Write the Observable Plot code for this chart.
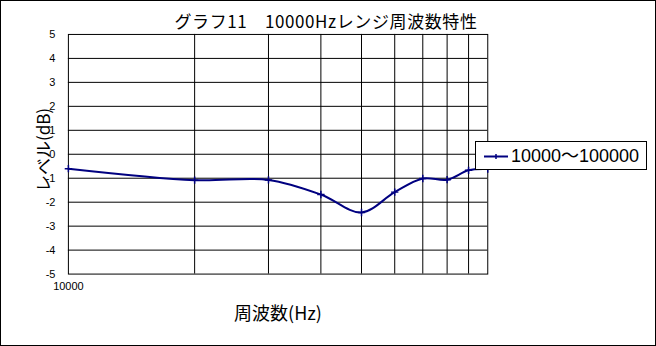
<!DOCTYPE html>
<html>
<head>
<meta charset="utf-8">
<script src="https://cdn.jsdelivr.net/npm/d3@7"></script>
<script src="https://cdn.jsdelivr.net/npm/@observablehq/plot@0.6"></script>
<style>
  html, body { margin: 0; padding: 0; background: white; }
  #wrap { position: relative; width: 656px; height: 346px; box-sizing: border-box; border: 1px solid black; background: white; overflow: hidden; }
  #chart { position: absolute; left: -1px; top: -1px; }
  .txt { position: absolute; font-family: "Noto Sans CJK JP", "Noto Sans", sans-serif; color: black; white-space: nowrap; line-height: 1; }
  #title { left: 0; width: 650px; top: 11px; text-align: center; font-size: 17px; letter-spacing: 0.6px; }
  #xtitle { left: 177px; width: 200px; top: 302px; text-align: center; font-size: 18px; }
  #ytitle { left: 41px; top: 149px; font-size: 17px; transform: translate(-50%, -50%) rotate(-90deg); }
  #legend { position: absolute; left: 474px; top: 140px; width: 172px; height: 29px; box-sizing: border-box; border: 1px solid black; background: white; }
  #legend svg { position: absolute; left: 0; top: 0; }
  #legend .lt { position: absolute; left: 35px; top: 5px; font-family: "Liberation Sans", "Noto Sans CJK JP", sans-serif; font-size: 18px; line-height: 1; white-space: nowrap; }
</style>
</head>
<body>
<div id="wrap">
  <div id="chart"></div>
  <div class="txt" id="title">グラフ11　10000Hzレンジ周波数特性</div>
  <div class="txt" id="xtitle">周波数(Hz)</div>
  <div class="txt" id="ytitle">レベル(dB)</div>
  <div id="legend"></div>
</div>
<script>
// Data
const frequencies = [10000, 20000, 30000, 40000, 50000, 60000, 70000, 80000, 90000, 100000];
const levels = [-0.6, -1.08, -1.07, -1.68, -2.43, -1.58, -1.01, -1.06, -0.67, -0.62];
const seriesName = "10000〜100000";
const yTicks = [-5, -4, -3, -2, -1, 0, 1, 2, 3, 4, 5];
const xTickLabels = [10000];
const xGrid = [20000, 30000, 40000, 50000, 60000, 70000, 80000, 90000];
const yGrid = [-4, -3, -2, -1, 0, 1, 2, 3, 4];

const data = frequencies.map((f, i) => ({f, v: levels[i]}));
const navy = "#000080";

const chart = Plot.plot({
  width: 656,
  height: 346,
  marginLeft: 68,
  marginRight: 168,
  marginTop: 34,
  marginBottom: 72,
  style: { fontFamily: "'Liberation Sans', Arial, sans-serif", fontSize: "11px", background: "transparent" },
  x: { type: "log", domain: [10000, 100000] },
  y: { domain: [-5, 5] },
  marks: [
    Plot.gridX(xGrid, { stroke: "black", strokeOpacity: 1 }),
    Plot.gridY(yGrid, { stroke: "black", strokeOpacity: 1 }),
    Plot.frame({ stroke: "black" }),
    Plot.axisY(yTicks, { tickSize: 0, tickPadding: 13, tickFormat: d => String(d), label: null, fontSize: 11 }),
    Plot.axisX(xTickLabels, { tickSize: 0, tickPadding: 8, tickFormat: d => String(d), label: null, fontSize: 11 }),
    Plot.line(data, { x: "f", y: "v", curve: "catmull-rom", stroke: navy, strokeWidth: 2 }),
    Plot.dot(data, { x: "f", y: "v", symbol: "plus", r: 2.5, stroke: navy, strokeWidth: 1.5 })
  ]
});
document.getElementById("chart").appendChild(chart);

// Legend
const leg = document.getElementById("legend");
const ls = d3.create("svg").attr("width", 34).attr("height", 27);
ls.append("line").attr("x1", 8).attr("x2", 32).attr("y1", 14.5).attr("y2", 14.5)
  .attr("stroke", navy).attr("stroke-width", 2);
ls.append("line").attr("x1", 20).attr("x2", 20).attr("y1", 12).attr("y2", 17)
  .attr("stroke", navy).attr("stroke-width", 1.5);
leg.appendChild(ls.node());
const lt = document.createElement("div");
lt.className = "lt";
lt.textContent = seriesName;
leg.appendChild(lt);
</script>
</body>
</html>
